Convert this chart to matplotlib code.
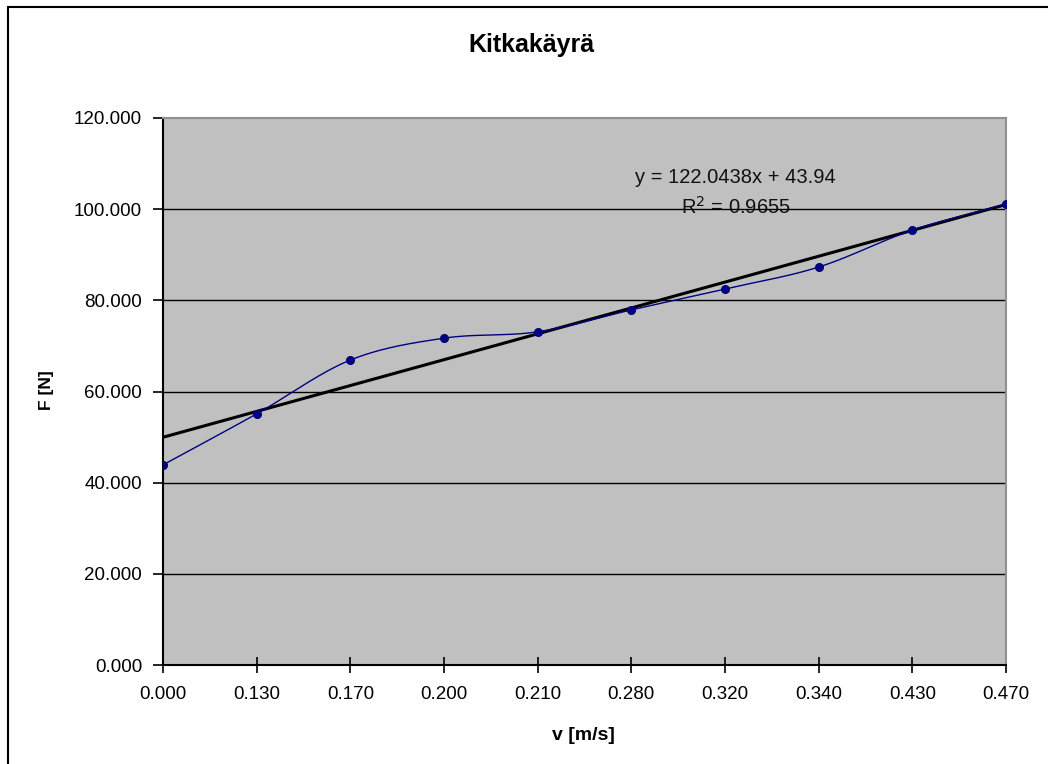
import numpy as np
import matplotlib
matplotlib.use("Agg")
import matplotlib.pyplot as plt
from matplotlib.patches import Rectangle

plt.rcParams['font.family'] = ['Liberation Sans', 'DejaVu Sans']

# Measured friction force at each speed
speed_labels = ["0.000", "0.130", "0.170", "0.200", "0.210",
                "0.280", "0.320", "0.340", "0.430", "0.470"]
force = [43.9, 55.1, 66.9, 71.7, 73.1, 77.9, 82.5, 87.3, 95.4, 101.1]
y_ticks = [0, 20, 40, 60, 80, 100, 120]
equation_text = "y = 122.0438x + 43.94"
r2_text = "R$^2$ = 0.9655"

idx = np.arange(len(force), dtype=float)
f = np.asarray(force, dtype=float)


def smooth_curve(x, y, n=30):
    """Catmull-Rom style smoothing through all points."""
    px = np.concatenate([[2 * x[0] - x[1]], x, [2 * x[-1] - x[-2]]])
    py = np.concatenate([[2 * y[0] - y[1]], y, [2 * y[-1] - y[-2]]])
    xs, ys = [], []
    t = np.linspace(0, 1, n)
    for i in range(1, len(px) - 2):
        p0, p1, p2, p3 = (np.array([px[j], py[j]]) for j in (i - 1, i, i + 1, i + 2))
        c1 = p1 + (p2 - p0) / 6
        c2 = p2 - (p3 - p1) / 6
        pts = ((1 - t)[:, None] ** 3 * p1 + 3 * ((1 - t) ** 2 * t)[:, None] * c1
               + 3 * ((1 - t) * t ** 2)[:, None] * c2 + (t ** 3)[:, None] * p2)
        xs.extend(pts[:, 0]); ys.extend(pts[:, 1])
    return np.array(xs), np.array(ys)


fig = plt.figure(figsize=(10.48, 7.64), dpi=100)
fig.patch.set_facecolor("white")

# Outer chart frame (open at right and bottom)
fig.add_artist(Rectangle((8 / 1048, -0.05), 1.2, 1 - 7 / 764 + 0.05,
                         transform=fig.transFigure, fill=False,
                         edgecolor="black", linewidth=1.5))

ax = fig.add_axes([163 / 1048, 1 - 665 / 764, (1006 - 163) / 1048, (665 - 118) / 764])
ax.set_facecolor("#c0c0c0")
ax.set_xlim(0, len(force) - 1)
ax.set_ylim(0, 120)

for yv in y_ticks[1:-1]:
    ax.axhline(yv, color="black", linewidth=1.0, zorder=1)

# Smoothed data line with markers
sx, sy = smooth_curve(idx, f)
ax.plot(sx, sy, color="#000080", linewidth=1.0, zorder=3)
ax.plot(idx, f, linestyle="none", marker="o", markersize=5.5,
        color="#000080", zorder=4)

# Linear trend line
k, b = np.polyfit(idx, f, 1)
ax.plot(idx[[0, -1]], k * idx[[0, -1]] + b, color="black", linewidth=2.2, zorder=2)

ax.text(0.679, 0.892, equation_text, transform=ax.transAxes, ha="center",
        va="center", fontsize=14.5, color="#111111", zorder=5)
ax.text(0.679, 0.837, r2_text, transform=ax.transAxes, ha="center",
        va="center", fontsize=14.5, color="#111111", zorder=0.5)

ax.set_xticks(idx)
ax.set_xticklabels(speed_labels)
ax.set_yticks(y_ticks)
ax.set_yticklabels([f"{v:.3f}" for v in y_ticks])
ax.tick_params(axis="x", direction="inout", length=12, width=1.2, pad=9,
               labelsize=13.5)
ax.tick_params(axis="y", direction="out", length=7, width=1.2, pad=8,
               labelsize=13.5)

for s in ("left", "bottom"):
    ax.spines[s].set_linewidth(1.5)
    ax.spines[s].set_color("black")
for s in ("top", "right"):
    ax.spines[s].set_color("#909090")
    ax.spines[s].set_linewidth(1.5)

fig.text(531 / 1048, 1 - 45 / 764, "Kitkakäyrä", ha="center", va="center",
         fontsize=18, fontweight="bold")
fig.text(47 / 1048, 1 - 390 / 764, "F [N]", ha="center", va="center",
         rotation=90, fontsize=12.5, fontweight="bold")
fig.text(583 / 1048, 1 - 736 / 764, "v [m/s]", ha="center", va="center",
         fontsize=14, fontweight="bold")

fig.savefig("out.png", dpi=100)
